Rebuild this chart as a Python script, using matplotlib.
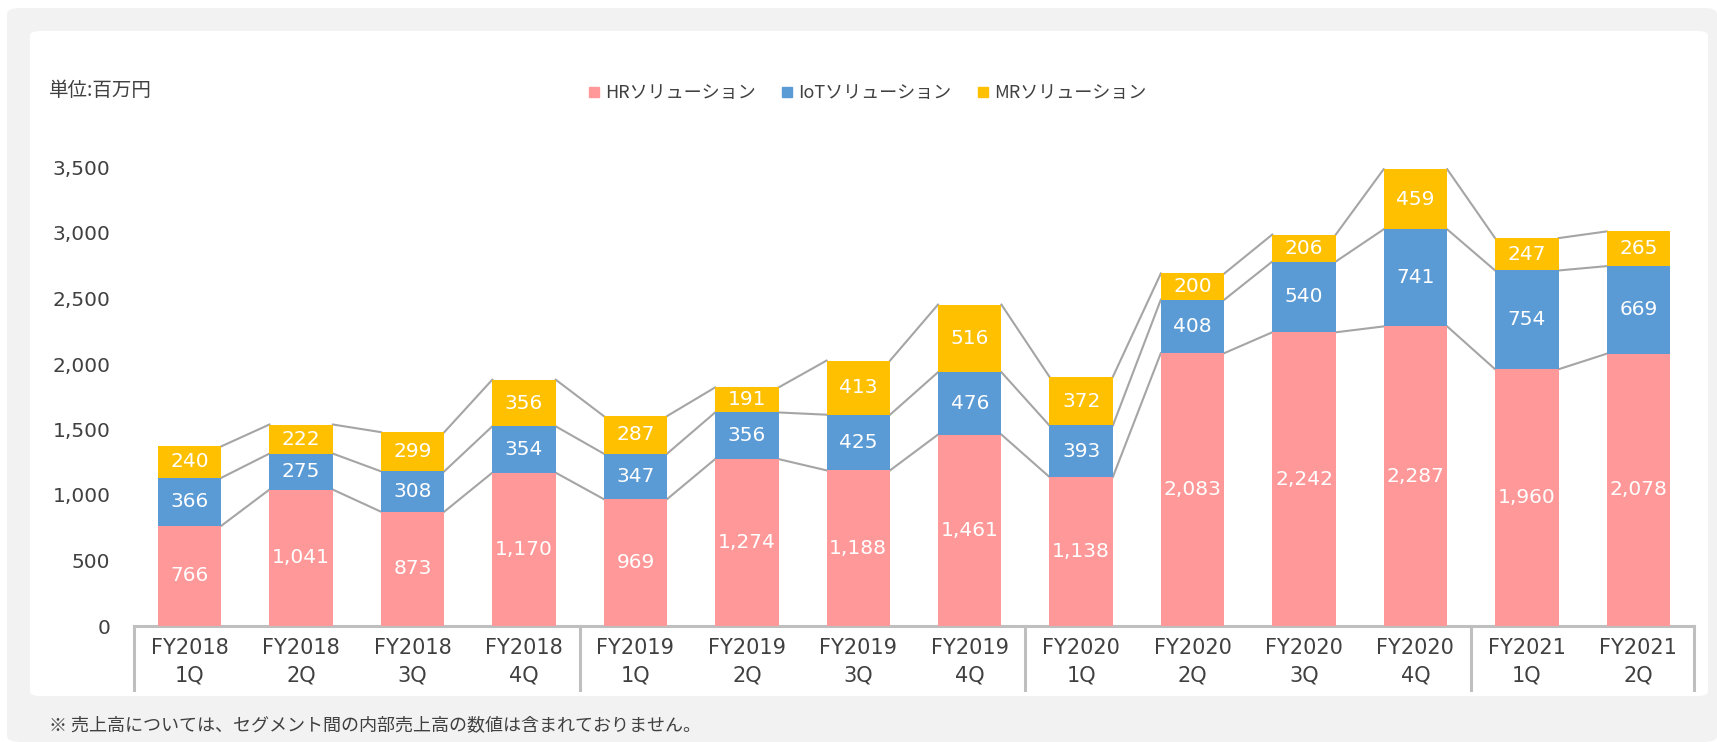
import numpy as np
import matplotlib
matplotlib.use("Agg")
import matplotlib.pyplot as plt
from matplotlib.patches import FancyBboxPatch
from matplotlib.lines import Line2D
import matplotlib.transforms as mtrans

plt.rcParams['font.family'] = ['Noto Sans CJK JP', 'DejaVu Sans']

# quarters and segment sales (million yen)
quarters = ["FY2018\n1Q", "FY2018\n2Q", "FY2018\n3Q", "FY2018\n4Q",
            "FY2019\n1Q", "FY2019\n2Q", "FY2019\n3Q", "FY2019\n4Q",
            "FY2020\n1Q", "FY2020\n2Q", "FY2020\n3Q", "FY2020\n4Q",
            "FY2021\n1Q", "FY2021\n2Q"]
hr = [766, 1041, 873, 1170, 969, 1274, 1188, 1461, 1138, 2083, 2242, 2287, 1960, 2078]
iot = [366, 275, 308, 354, 347, 356, 425, 476, 393, 408, 540, 741, 754, 669]
mr = [240, 222, 299, 356, 287, 191, 413, 516, 372, 200, 206, 459, 247, 265]
series_names = ["HRソリューション", "IoTソリューション", "MRソリューション"]
colors = ["#FF9999", "#5B9BD5", "#FFC000"]
yticks = [0, 500, 1000, 1500, 2000, 2500, 3000, 3500]
group_edges = [-0.5, 3.5, 7.5, 11.5, 13.5]

W, H = 1717, 742
NUM_FONT = ["DejaVu Sans"]
fig = plt.figure(figsize=(W / 100, H / 100), dpi=100, facecolor="white")

# gray panel and white card behind the chart
fig.patches.append(FancyBboxPatch((7 / W, 0), (W - 7) / W, 1 - 8 / H,
                                  boxstyle="round,pad=0,rounding_size=0.008",
                                  transform=fig.transFigure, facecolor="#F2F2F2",
                                  edgecolor="none", zorder=-3))
fig.patches.append(FancyBboxPatch((30 / W, 1 - 696 / H), 1678 / W, 665 / H,
                                  boxstyle="round,pad=0,rounding_size=0.006",
                                  transform=fig.transFigure, facecolor="white",
                                  edgecolor="none", zorder=-2))

left, right = 134 / W, 1694 / W
bottom, top = 1 - 626 / H, 1 - 167.5 / H
ax = fig.add_axes([left, bottom, right - left, top - bottom])
ax.set_facecolor("none")

x = np.arange(len(quarters))
bw = 0.57
data = [np.array(hr), np.array(iot), np.array(mr)]
base = np.zeros(len(quarters))
levels = []
for vals, col, name in zip(data, colors, series_names):
    ax.bar(x, vals, bw, bottom=base, color=col, label=name, zorder=3)
    for xi, b, v in zip(x, base, vals):
        ax.text(xi, b + v / 2, f"{v:,}", ha="center", va="center",
                color="white", fontsize=14.5, family=NUM_FONT, zorder=4)
    base = base + vals
    levels.append(base.copy())

# connector lines between bar tops
for lev in levels:
    for i in range(len(quarters) - 1):
        ax.plot([x[i] + bw / 2, x[i + 1] - bw / 2], [lev[i], lev[i + 1]],
                color="#A5A5A5", lw=1.5, zorder=2)

ax.set_xlim(-0.5, len(quarters) - 0.5)
ax.set_ylim(0, 3500)
ax.set_yticks(yticks)
ax.set_yticklabels([f"{t:,}" for t in yticks], fontsize=14.5, color="#404040",
                   family=NUM_FONT)
ax.tick_params(axis="y", length=0, pad=17)
ax.set_xticks(x)
ax.set_xticklabels(quarters, fontsize=15, color="#404040", linespacing=1.45,
                   family=NUM_FONT)
ax.tick_params(axis="x", length=0, pad=8.5)
for s in ["top", "right", "left"]:
    ax.spines[s].set_visible(False)
ax.spines["bottom"].set_color("#BFBFBF")
ax.spines["bottom"].set_linewidth(2.2)

trans = mtrans.blended_transform_factory(ax.transData, ax.transAxes)
for e in group_edges:
    ax.plot([e, e], [0, -64 / (626 - 167.5)], color="#BFBFBF", lw=2.2,
            transform=trans, clip_on=False, zorder=1)

fig.text(49 / W, 1 - 90 / H, "単位:百万円", fontsize=14, color="#404040",
         ha="left", va="center")

handles = [Line2D([], [], marker="s", linestyle="none", markersize=7,
                  markerfacecolor=c, markeredgecolor=c) for c in colors]
fig.legend(handles, series_names, loc="center", bbox_to_anchor=(0.505, 1 - 93 / H),
           ncol=3, frameon=False, fontsize=13, handlelength=0.7,
           handletextpad=0.25, columnspacing=1.4, labelcolor="#404040")

fig.text(49 / W, 1 - 725 / H,
         "※ 売上高については、セグメント間の内部売上高の数値は含まれておりません。",
         fontsize=13, color="#404040", ha="left", va="center")

fig.savefig("out.png", dpi=100, facecolor=fig.get_facecolor())
